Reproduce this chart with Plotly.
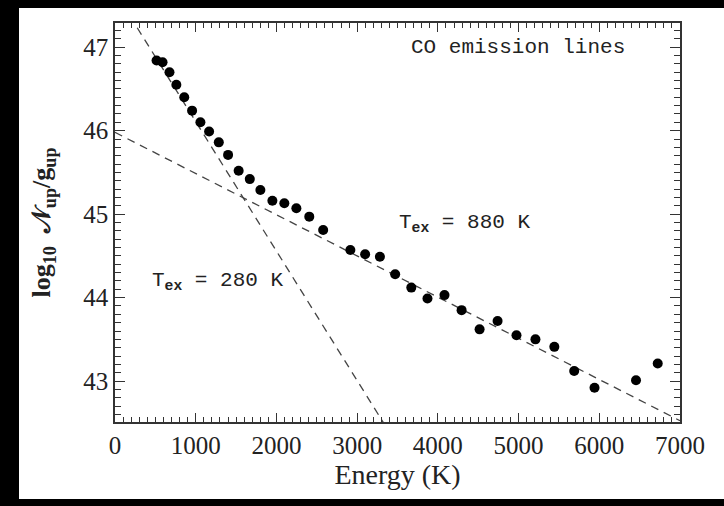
import math
import plotly.graph_objects as go

# CO rotational diagram data
energy_K = [515, 589, 675, 760, 858, 955, 1058, 1166, 1286, 1401, 1532, 1670, 1801,
            1950, 2098, 2247, 2407, 2579, 2916, 3099, 3282, 3471, 3671, 3871, 4082,
            4294, 4517, 4740, 4974, 5209, 5443, 5689, 5941, 6455, 6724]
log_N_over_g = [46.84, 46.82, 46.70, 46.55, 46.40, 46.24, 46.10, 45.99, 45.86, 45.71,
                45.52, 45.42, 45.29, 45.16, 45.13, 45.07, 44.97, 44.81, 44.57, 44.52,
                44.49, 44.28, 44.12, 43.99, 44.03, 43.85, 43.62, 43.72, 43.55, 43.50,
                43.41, 43.12, 42.92, 43.01, 43.21]

# Two-temperature fits: excitation temperature and intercept at E=0
fit_Tex = [280, 880]
fit_intercept = [47.66, 45.98]
fit_x = [0, 7000]

x_ticks = [0, 1000, 2000, 3000, 4000, 5000, 6000, 7000]
y_ticks = [43, 44, 45, 46, 47]
x_range = [0, 7000]
y_range = [42.51, 47.29]

FONT = "Liberation Serif"
MONO = "Liberation Mono"
INK = "#222222"
AXC = "#333333"

fig = go.Figure()

for T, b in zip(fit_Tex, fit_intercept):
    slope = -math.log10(math.e) / T
    fig.add_trace(go.Scatter(
        x=fit_x, y=[b + slope * xx for xx in fit_x], mode="lines",
        line=dict(color="#444444", width=1.3, dash="8px,6px"),
        hoverinfo="skip", showlegend=False))

fig.add_trace(go.Scatter(
    x=energy_K, y=log_N_over_g, mode="markers",
    marker=dict(color="black", size=10, line=dict(width=0)),
    showlegend=False))

# invisible trace to carry the mirrored (top/right) tick axes
fig.add_trace(go.Scatter(x=[x_range[0]], y=[y_range[0]], xaxis="x2", yaxis="y2",
                         mode="markers", marker=dict(opacity=0),
                         hoverinfo="skip", showlegend=False))

axis_common = dict(
    showline=True, linecolor=AXC, linewidth=1.5, mirror=True,
    ticks="inside", tickcolor=AXC, tickwidth=1.2,
    showgrid=False, zeroline=False,
    tickfont=dict(family=FONT, size=25, color=INK),
)

fig.update_layout(
    xaxis=dict(
        range=x_range, tickvals=x_ticks, ticklen=9,
        minor=dict(dtick=100, ticks="inside", ticklen=5, tickcolor=AXC, tickwidth=1, showgrid=False),
        title=dict(text="Energy (K)", font=dict(family=FONT, size=28, color=INK), standoff=4),
        **axis_common),
    yaxis=dict(
        range=y_range, tickvals=y_ticks, ticklen=10,
        minor=dict(dtick=0.1, ticks="inside", ticklen=6, tickcolor=AXC, tickwidth=1, showgrid=False),
        title=dict(text="<b>log<sub>10</sub>  𝒩<sub>up</sub>/g<sub>up</sub></b>",
                   font=dict(family=FONT, size=26, color=INK), standoff=25),
        **axis_common),
    xaxis2=dict(
        overlaying="x", side="top", anchor="y2", range=x_range, tickvals=x_ticks,
        ticks="inside", ticklen=9, tickcolor=AXC, tickwidth=1.2, showticklabels=False,
        showline=False, showgrid=False, zeroline=False,
        minor=dict(dtick=100, ticks="inside", ticklen=5, tickcolor=AXC, tickwidth=1, showgrid=False)),
    yaxis2=dict(
        overlaying="y", side="right", anchor="x2", range=y_range, tickvals=y_ticks,
        ticks="inside", ticklen=10, tickcolor=AXC, tickwidth=1.2, showticklabels=False,
        showline=False, showgrid=False, zeroline=False,
        minor=dict(dtick=0.1, ticks="inside", ticklen=6, tickcolor=AXC, tickwidth=1, showgrid=False)),
)

fig.add_annotation(x=6343, y=47.0, xref="x", yref="y", text="CO emission lines",
                   showarrow=False, xanchor="right", yanchor="middle",
                   font=dict(family=MONO, size=21, color=INK))
fig.add_annotation(x=3494, y=44.89, xref="x", yref="y",
                   text="T<sub><b>ex</b></sub> = 880 K",
                   showarrow=False, xanchor="left", yanchor="middle",
                   font=dict(family=MONO, size=21, color=INK))
fig.add_annotation(x=434, y=44.19, xref="x", yref="y",
                   text="T<sub><b>ex</b></sub> = 280 K",
                   showarrow=False, xanchor="left", yanchor="middle",
                   font=dict(family=MONO, size=21, color=INK))

# white page area on black background
fig.add_shape(type="rect", xref="paper", yref="paper",
              x0=(19 - 115) / 565, x1=(724 - 115) / 565,
              y0=(422 - 499) / 399, y1=(422 - 8) / 399,
              fillcolor="white", line=dict(width=0), layer="below")

fig.update_layout(
    width=724, height=506,
    margin=dict(l=115, r=44, t=23, b=84),
    paper_bgcolor="black", plot_bgcolor="white",
)

fig.write_html("out.html")
